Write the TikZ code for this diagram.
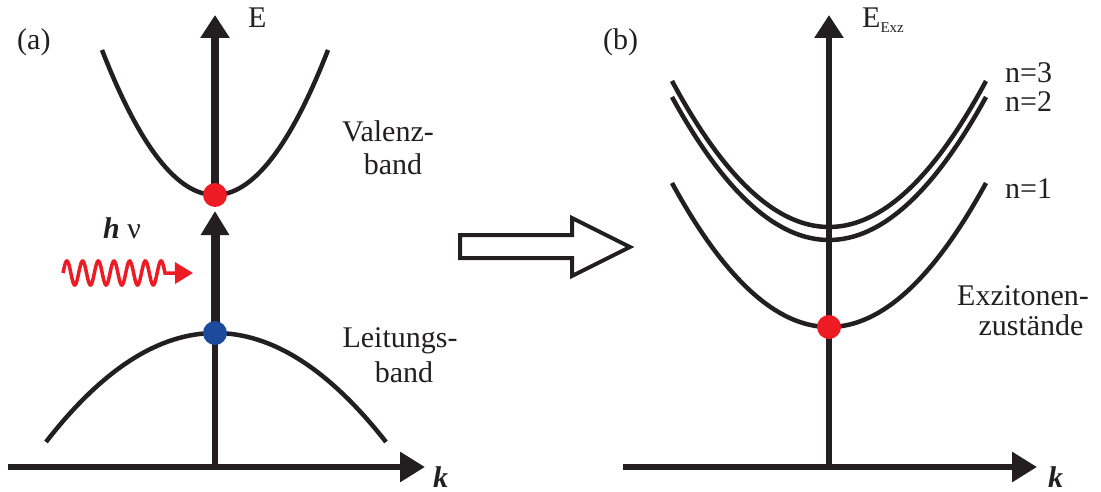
\documentclass[tikz,border=0pt]{standalone}
\usepackage{fontspec}
\setmainfont{Liberation Serif}
\usetikzlibrary{arrows.meta}
\definecolor{ink}{HTML}{231F20}
\definecolor{dotred}{HTML}{ED1C24}
\definecolor{dotblue}{HTML}{1C4A9C}
\begin{document}
\begin{tikzpicture}[x=1pt,y=-1pt,
  curve/.style={draw=ink,line width=4.5pt},
  axis/.style={draw=ink,line width=6pt},
  vtip/.style={-{Triangle[length=23pt,width=28pt]}},
  htip/.style={-{Triangle[length=25pt,width=29pt]}},
  lbl/.style={inner sep=0pt,font=\fontsize{30}{36}\selectfont,text=ink},
  dot/.style={circle,inner sep=0pt,minimum size=24pt},
]
\useasboundingbox (0,0) rectangle (1101,492);

% ---------- panel (a) ----------
\coordinate (aO) at (215,467);
\coordinate (aX0) at (8,467);
\coordinate (aX1) at (425,467);
\coordinate (aYtop) at (215,15);
\coordinate (topA) at (215,195);
\coordinate (botA) at (215,333);
\coordinate (tipA) at (215,211);

\draw[axis,htip] (aX0) -- (aX1);
\draw[axis] (aO) -- (botA);
\draw[draw=ink,line width=9pt,-{Triangle[length=24pt,width=27pt]}] (botA) -- (tipA);
\draw[draw=ink,line width=7.5pt,vtip] (topA) -- (aYtop);

\draw[curve] (102,50) .. controls (177.33,243.33) and (252.67,243.33) .. (328,50);
\draw[curve] (46,442) .. controls (158.67,296.67) and (272,296.67) .. (386,442);

\coordinate (wS) at (63,273);
\coordinate (wE) at (193,273);
\draw[dotred,line width=3.5pt,-{Triangle[length=18pt,width=21pt]}]
  plot[domain=63:165,samples=160,smooth] (\x,{273-12*sin((\x-63)/15.69*360)}) -- (wE);

\node[dot,fill=dotred] (topDot) at (topA) {};
\node[dot,fill=dotblue] (botDot) at (botA) {};

\node[lbl,anchor=base west] (la) at (17,50) {(a)};
\node[lbl,anchor=base west] (lE) at (248,28) {E};
\node[lbl,anchor=base] (val1) at (388,142) {Valenz-};
\node[lbl,anchor=base] (val2) at (393,175) {band};
\node[lbl,anchor=base] (lei1) at (400,347) {Leitungs-};
\node[lbl,anchor=base] (lei2) at (404,382) {band};
\node[lbl,anchor=base west] (hnu) at (103,238) {\textbf{\textit{h}} ν};
\node[lbl,anchor=base west] (kA) at (433,487) {\textbf{\textit{k}}};

% ---------- block arrow ----------
\draw[ink,line width=4pt,line join=miter] (460,235) -- (572,235) -- (572,218) -- (630,247)
  -- (572,276) -- (572,258) -- (460,258) -- cycle;

% ---------- panel (b) ----------
\coordinate (bO) at (829,467);
\coordinate (bX0) at (623,467);
\coordinate (bX1) at (1037,467);
\coordinate (bYtop) at (829,15);
\coordinate (bMin) at (829,327);

\draw[axis,htip] (bX0) -- (bX1);
\draw[axis,vtip] (bO) -- (bYtop);

\draw[curve] (672,183) .. controls (776.67,375) and (881.33,375) .. (986,183);
\draw[curve] (672,97) .. controls (776.67,287.67) and (881.33,287.67) .. (986,97);
\draw[curve] (672,81) .. controls (776.67,275.67) and (881.33,275.67) .. (986,81);

\node[dot,fill=dotred] (bDot) at (bMin) {};

\node[lbl,anchor=base west] (lb) at (603,50) {(b)};
\node[lbl,anchor=base west] (lEx) at (862,28) {E\raisebox{-5pt}{\fontsize{15}{18}\selectfont Exz}};
\node[lbl,anchor=base west] (n3) at (1005,83) {n=3};
\node[lbl,anchor=base west] (n2) at (1005,112) {n=2};
\node[lbl,anchor=base west] (n1) at (1005,198) {n=1};
\node[lbl,anchor=base] (ex1) at (1023,305) {Exzitonen-};
\node[lbl,anchor=base] (ex2) at (1031,335) {zustände};
\node[lbl,anchor=base west] (kB) at (1048,487) {\textbf{\textit{k}}};
\end{tikzpicture}
\end{document}
